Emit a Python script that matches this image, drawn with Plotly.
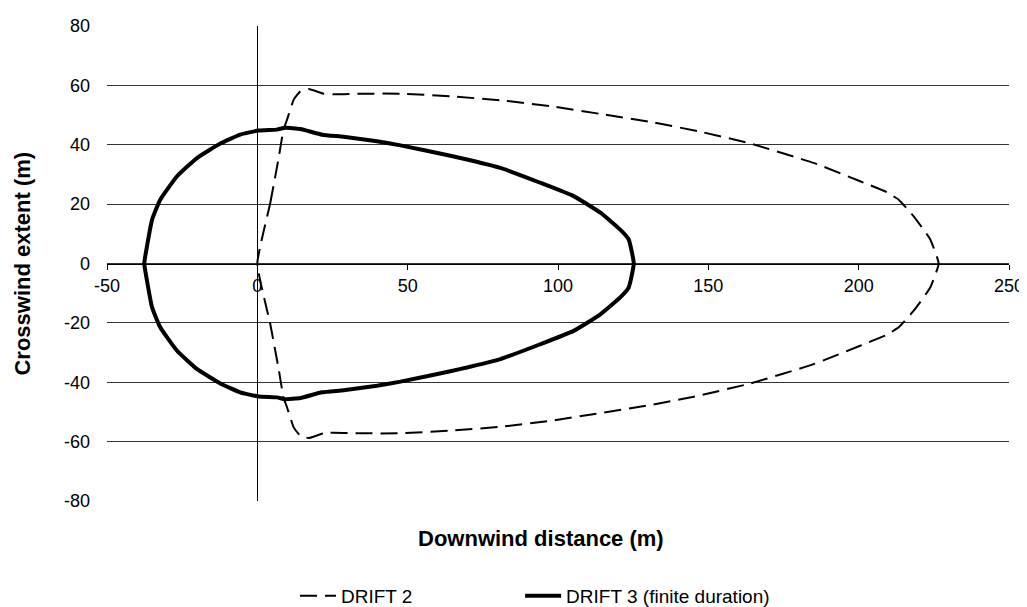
import plotly.graph_objects as go

# DRIFT 2 (dashed) closed contour
drift2_x = [0, 4.3, 7.1, 8.7, 9.9, 12.1, 14.3, 17.1, 22, 25.4, 34.3, 47.6, 64.2, 80.8, 97.4,
            114, 130.7, 146.8, 164, 185, 200.5, 209.4, 213.3, 218.3, 223.8, 226.6,
            223.8, 218.3, 213.3, 209.4, 200.5, 185, 164, 146.8, 130.7, 114, 97.4, 80.8,
            64.2, 47.6, 34.3, 25.4, 22, 17.1, 14.3, 12.1, 9.9, 8.7, 7.1, 4.3, 0]
drift2_y = [0, 20.4, 35.6, 45.1, 48.5, 55.2, 58, 58.8, 57.2, 57, 57.2, 57.2, 56.3, 55, 53,
            50.4, 47.7, 44.5, 40.4, 33.9, 27.7, 24, 21.5, 15.9, 8.1, 0,
            -8.1, -15.9, -21.5, -24, -27.7, -33.9, -40.4, -44.5, -47.7, -50.4, -53, -55,
            -56.3, -57.2, -57.2, -57, -57.2, -58.8, -58, -55.2, -48.5, -45.1, -35.6, -20.4, 0]

# DRIFT 3 (finite duration) closed contour
drift3_x = [-37.6, -36.7, -35, -32.3, -26.7, -20, -12.3, -5.7, 0.4, 6.5, 9.3, 14.3, 21.5,
            28.7, 39.8, 47.6, 64.2, 80.8, 94.1, 105.2, 114.1, 120.7, 123.5, 125.2,
            123.5, 120.7, 114.1, 105.2, 94.1, 80.8, 64.2, 47.6, 39.8, 28.7, 21.5, 14.3,
            9.3, 6.5, 0.4, -5.7, -12.3, -20, -26.7, -32.3, -35, -36.7, -37.6]
drift3_y = [0, 5.8, 14.8, 21.5, 29.4, 35.6, 40.4, 43.4, 44.8, 45.1, 45.7, 45.3, 43.4,
            42.7, 41.2, 39.8, 36.3, 32.2, 27.2, 22.7, 17.1, 11.4, 8.1, 0,
            -8.1, -11.4, -17.1, -22.7, -27.2, -32.2, -36.3, -39.8, -41.2, -42.7, -43.4, -45.3,
            -45.7, -45.1, -44.8, -43.4, -40.4, -35.6, -29.4, -21.5, -14.8, -5.8, 0]

x_ticks = [-50, 0, 50, 100, 150, 200, 250]
x_labels = ["-50", "0", "50", "100", "150", "200", "250"]
y_ticks = [-80, -60, -40, -20, 0, 20, 40, 60, 80]
y_labels = ["-80", "-60", "-40", "-20", "0", "20", "40", "60", "80"]

FONT = "Liberation Sans, Arial, sans-serif"

fig = go.Figure()
fig.add_trace(go.Scatter(x=drift2_x, y=drift2_y, mode="lines", name="DRIFT 2",
                         legend="legend",
                         line=dict(color="black", width=2, dash="17px,8px",
                                   shape="spline", smoothing=0.4)))
fig.add_trace(go.Scatter(x=drift3_x, y=drift3_y, mode="lines", name="DRIFT 3 (finite duration)",
                         legend="legend2",
                         line=dict(color="black", width=4, shape="spline", smoothing=0.4)))

legend_common = dict(orientation="h", y=-0.2, xanchor="left", yanchor="middle",
                     itemwidth=36, font=dict(size=19), bgcolor="rgba(0,0,0,0)")

fig.update_layout(
    width=1027, height=640,
    margin=dict(l=99, r=26, t=18, b=147),
    paper_bgcolor="white", plot_bgcolor="white",
    font=dict(family=FONT, size=18, color="black"),
    xaxis=dict(range=[-50, 250], tickvals=x_ticks, ticktext=x_labels, showgrid=False,
               zeroline=True, zerolinecolor="black", zerolinewidth=1,
               showline=True, linecolor="black", linewidth=1,
               ticks="outside", ticklen=5, tickcolor="black", ticklabelstandoff=1,
               anchor="free", position=0.5, domain=[0, 1], automargin=False,
               tickfont=dict(size=18)),
    yaxis=dict(range=[-80, 80], tickvals=y_ticks, ticktext=y_labels, showgrid=True,
               gridcolor="#333333", gridwidth=1, zeroline=False, showline=False, ticks="",
               ticklabelstandoff=16, domain=[0, 1], automargin=False,
               tickfont=dict(size=18)),
    yaxis2=dict(range=[-80, 80], tickvals=y_ticks, overlaying="y", anchor="free",
                position=1/6, side="left", showgrid=False, zeroline=False,
                showline=False, ticks="outside", ticklen=5, tickcolor="black",
                showticklabels=False, automargin=False),
    showlegend=True,
    legend=dict(x=0.2084, **legend_common),
    legend2=dict(x=0.458, **legend_common),
    annotations=[
        dict(text="<b>Downwind distance (m)</b>", x=0.481, y=-0.078, xref="paper",
             yref="paper", showarrow=False, font=dict(size=22), xanchor="center",
             yanchor="middle"),
        dict(text="<b>Crosswind extent (m)</b>", x=-0.0942, y=0.5, xref="paper",
             yref="paper", showarrow=False, font=dict(size=22), textangle=-90,
             xanchor="center", yanchor="middle"),
    ],
)

fig.write_html("out.html")
